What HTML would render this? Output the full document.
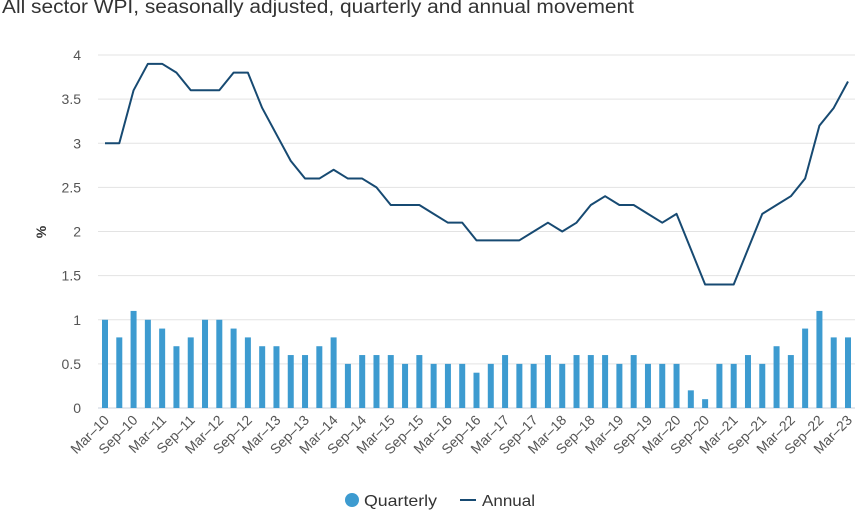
<!DOCTYPE html>
<html><head><meta charset="utf-8"><style>
body{margin:0;background:#fff;width:861px;height:526px;overflow:hidden;font-family:"Liberation Sans",sans-serif}
</style></head><body>
<svg id="c" width="861" height="526" xmlns="http://www.w3.org/2000/svg">
<text x="2" y="13" font-size="19" fill="#333" textLength="632" lengthAdjust="spacingAndGlyphs">All sector WPI, seasonally adjusted, quarterly and annual movement</text>
<text transform="translate(46,232) rotate(-90)" font-size="14" font-weight="bold" fill="#333" text-anchor="middle">%</text>
<g id="grid"></g><g id="bars"></g><g id="line"></g><g id="xl"></g>
<g>
<circle cx="352" cy="500" r="7" fill="#3d9bd0"/>
<text x="364" y="506" font-size="16" fill="#333" textLength="73" lengthAdjust="spacingAndGlyphs">Quarterly</text>
<line x1="460" y1="500" x2="476" y2="500" stroke="#174a72" stroke-width="2"/>
<text x="482" y="506" font-size="16" fill="#333" textLength="53" lengthAdjust="spacingAndGlyphs">Annual</text>
</g>
</svg>
<script>
const quarterly=[1.0,0.8,1.1,1.0,0.9,0.7,0.8,1.0,1.0,0.9,0.8,0.7,0.7,0.6,0.6,0.7,0.8,0.5,0.6,0.6,0.6,0.5,0.6,0.5,0.5,0.5,0.4,0.5,0.6,0.5,0.5,0.6,0.5,0.6,0.6,0.6,0.5,0.6,0.5,0.5,0.5,0.2,0.1,0.5,0.5,0.6,0.5,0.7,0.6,0.9,1.1,0.8,0.8];
const annual=[3.0,3.0,3.6,3.9,3.9,3.8,3.6,3.6,3.6,3.8,3.8,3.4,3.1,2.8,2.6,2.6,2.7,2.6,2.6,2.5,2.3,2.3,2.3,2.2,2.1,2.1,1.9,1.9,1.9,1.9,2.0,2.1,2.0,2.1,2.3,2.4,2.3,2.3,2.2,2.1,2.2,1.8,1.4,1.4,1.4,1.8,2.2,2.3,2.4,2.6,3.2,3.4,3.7];
const yTicks=[0,0.5,1,1.5,2,2.5,3,3.5,4];
const mons=["Mar","Jun","Sep","Dec"];
const NS="http://www.w3.org/2000/svg";
const n=quarterly.length;
const xs=i=>105+i*(848-105)/(n-1);
const ys=v=>408-v*(408-55)/4;
function mk(t,a,p){const e=document.createElementNS(NS,t);for(const k in a)e.setAttribute(k,a[k]);p.appendChild(e);return e;}
const g=document.getElementById('grid');
yTicks.forEach(v=>{
 const l=mk('line',{x1:98,x2:855,y1:ys(v),y2:ys(v),stroke:v===0?'#c8d0dc':'#e3e3e3','stroke-width':1},g);
 
 
 const t=mk('text',{x:81,y:ys(v)+5,'font-size':14,fill:'#555','text-anchor':'end'},g);
 t.textContent=v;
 
 
});
const b=document.getElementById('bars');
quarterly.forEach((v,i)=>{
 const r=mk('rect',{x:xs(i)-3,y:ys(v),width:6,height:ys(0)-ys(v),fill:'#3d9bd0'},b);
 
 
});
const p=mk('polyline',{points:annual.map((v,i)=>xs(i)+','+ys(v)).join(' '),fill:'none',stroke:'#174a72','stroke-width':2,'stroke-linejoin':'round'},document.getElementById('line'));


const xl=document.getElementById('xl');
for(let i=0;i<n;i+=2){
 const yr=10+Math.floor(i/4);
 const t=mk('text',{transform:`translate(${xs(i)+5},${421}) rotate(-45)`,'font-size':14,fill:'#555','text-anchor':'end'},xl);
 t.textContent=mons[i%4]+'\u2013'+yr;
 
 
}
</script>
</body></html>
